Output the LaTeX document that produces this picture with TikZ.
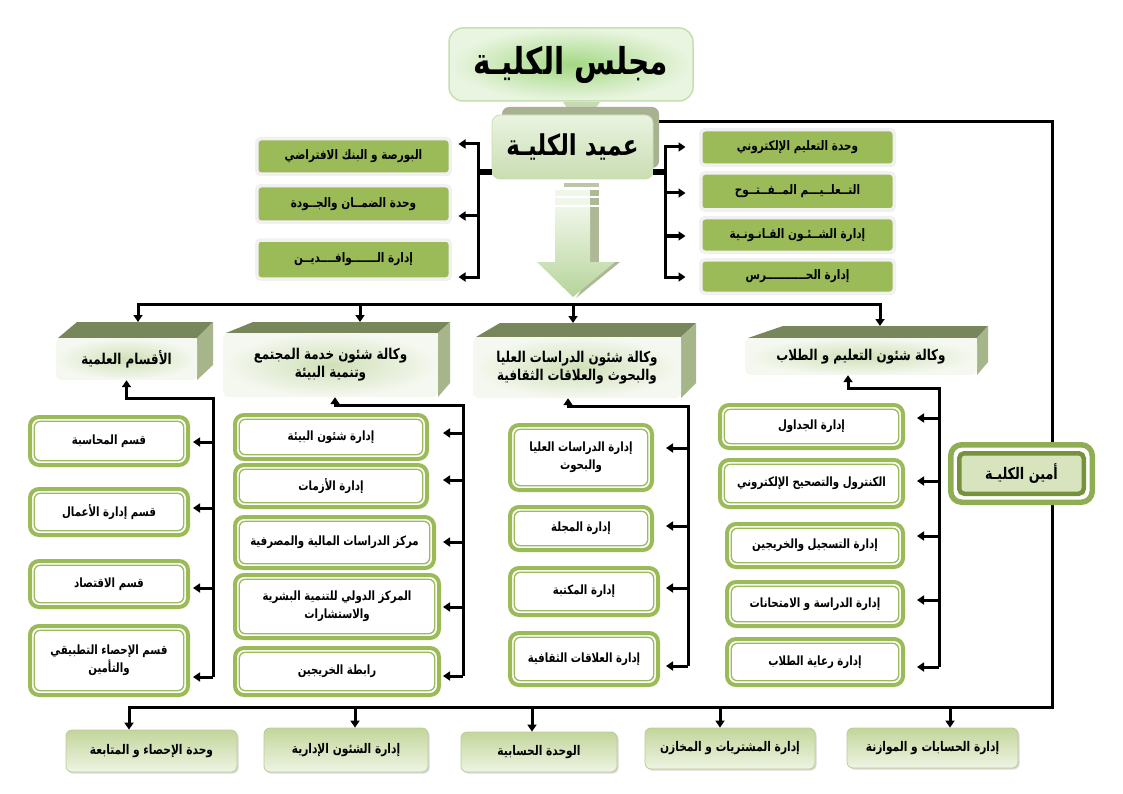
\documentclass[tikz,border=0pt]{standalone}
\usepackage{fontspec}
\usetikzlibrary{arrows.meta,shadows,calc}
\newfontfamily\arabicfont[Script=Arabic,FakeStretch=0.8]{DejaVu Sans}
\TeXXeTstate=1
\newcommand{\AR}[1]{\beginR #1\endR}
\definecolor{ogreen}{HTML}{9BBB59}
\definecolor{hdrtopc}{HTML}{77875B}
\definecolor{hdrsidec}{HTML}{A6B68A}
\definecolor{frontin}{HTML}{D0E0B8}
\definecolor{frontout}{HTML}{F5F8F0}
\definecolor{amouter}{HTML}{8FAE53}
\definecolor{aminner}{HTML}{76923C}
\definecolor{amfill}{HTML}{D7E4BD}
\definecolor{bottop}{HTML}{C3D69B}
\definecolor{botbot}{HTML}{EEF4E3}
\definecolor{botdraw}{HTML}{B9CD91}
\definecolor{councilin}{HTML}{A3D883}
\definecolor{councilout}{HTML}{EAF5E1}
\definecolor{councildraw}{HTML}{C4E0B0}
\definecolor{deantop}{HTML}{EAF3E0}
\definecolor{deanbot}{HTML}{CADDB2}
\definecolor{deanshadow}{HTML}{A9B290}
\definecolor{stubc}{HTML}{C9D8B5}
\definecolor{artop}{HTML}{F0F6E9}
\definecolor{arbot}{HTML}{B5D49A}
\definecolor{arshadow}{HTML}{AEB796}
\definecolor{sideframe}{HTML}{F1F1F1}
\newcommand\colfont{\arabicfont\bfseries\fontsize{12.75}{18}\selectfont}
\newcommand\hdrfont{\arabicfont\bfseries\fontsize{14.9}{18}\selectfont}
\newcommand\sidefont{\arabicfont\bfseries\fontsize{13.1}{15}\selectfont}
\newcommand\botfont{\arabicfont\bfseries\fontsize{13.3}{15}\selectfont}
\tikzset{
  conn/.style={line width=3pt, line cap=rect},
  arr/.style={line width=3pt, -{Triangle[length=7pt,width=9pt]}},
  stubline/.style={line width=6pt},
  colbox/.style={draw=ogreen, line width=4pt, fill=white, rounded corners=9pt,
    align=center, font=\colfont, inner sep=2pt,
    path picture={\draw[ogreen, line width=1.3pt, rounded corners=6pt]
      ([shift={(4.3pt,-4.3pt)}]path picture bounding box.north west) rectangle
      ([shift={(-4.3pt,4.3pt)}]path picture bounding box.south east);}},
  sidebox/.style={fill=ogreen, draw=sideframe, line width=3.5pt, rounded corners=4pt,
    drop shadow={opacity=0.35, shadow xshift=1pt, shadow yshift=-1.5pt},
    minimum width=193.5, minimum height=35.5, font=\sidefont, inner sep=1pt},
  hdrfront/.style={inner color=frontin, outer color=frontout, rounded corners=6pt,
    align=center, font=\hdrfont, inner sep=2pt},
  hdrtop/.style={fill=hdrtopc},
  hdrside/.style={fill=hdrsidec},
  botbox/.style={draw=botdraw, line width=0.8pt, top color=bottop, bottom color=botbot,
    rounded corners=6pt, drop shadow={opacity=0.3, shadow xshift=1.5pt, shadow yshift=-1.5pt},
    font=\botfont, inner sep=1pt},
  council/.style={inner color=councilin, outer color=councilout, draw=councildraw,
    line width=1.5pt, rounded corners=14pt, font=\arabicfont\bfseries\fontsize{37}{42}\selectfont},
  deanbox/.style={top color=deantop, bottom color=deanbot, draw=councildraw, line width=0.8pt,
    rounded corners=8pt, font=\arabicfont\bfseries\fontsize{28.7}{33}\selectfont},
  aminbox/.style={draw=amouter, line width=5.5pt, fill=white, rounded corners=11pt,
    font=\arabicfont\bfseries\fontsize{16}{19}\selectfont,
    path picture={\draw[draw=aminner, line width=4.5pt, fill=amfill, rounded corners=5pt]
      ([shift={(8.5pt,-8.5pt)}]path picture bounding box.north west) rectangle
      ([shift={(-8.5pt,8.5pt)}]path picture bounding box.south east);}}
}
\begin{document}
\begin{tikzpicture}[x=1pt,y=-1pt]
\useasboundingbox (0,0) rectangle (1123,794);
\fill[white] (0,0) rectangle (1123,794);

% ---------- long right line and bottom bus ----------
\coordinate (rc) at (1052,122);
\coordinate (rb) at (1052,707);
\coordinate (bb1) at (129,707);
\coordinate (bb2) at (355,707);
\coordinate (bb3) at (532,707);
\coordinate (bb4) at (720,707);
\coordinate (bb5) at (950,707);
\draw[conn] (640,122) -- (rc) -- (rb) -- (bb1);

% ---------- council and dean ----------
\node[council, minimum width=244, minimum height=73] (council) at (571,64.5) {\AR{مجلس الكليـة}};
\fill[stubc] (563,102) -- (600,102) -- (596,108) -- (567,108) -- cycle;
\fill[deanshadow, rounded corners=7pt] (502,107) rectangle (659,168);
\node[deanbox, minimum width=161, minimum height=64] (dean) at (572.5,147) {\AR{عميد الكليـة}};

% ---------- big arrow ----------
\fill[stubc!80!gray] (564,183) rectangle (599,187);
\fill[arshadow] (555,190) rectangle (599,196);
\fill[arshadow] (555,198) rectangle (599,205);
\fill[arshadow] (555,207) rectangle (599,264);
\fill[arshadow] (600,262) -- (620,262) -- (576,298) -- cycle;
\fill[artop] (555,190) rectangle (590,196);
\fill[artop] (555,198) rectangle (590,205);
\shade[top color=artop, bottom color=arbot]
  (555,207) -- (590,207) -- (590,262) -- (615,262) -- (573,297) -- (537,262) -- (555,262) -- cycle;

% ---------- side boxes of the dean ----------
\node[sidebox] (L1) at (353.5,156.5) {\AR{البورصة و البنك الافتراضي}};
\node[sidebox, minimum height=36.5] (L2) at (353.5,204) {\AR{وحدة الضمــان والجــودة}};
\node[sidebox, minimum height=39] (L3) at (353.5,259.5) {\AR{إدارة الـــــــوافــــديــن}};
\node[sidebox] (R1) at (797.5,147.5) {\AR{وحدة التعليم الإلكتروني}};
\node[sidebox, minimum height=37] (R2) at (797.5,191.5) {\AR{التــعلــيـــم المــفــتــوح}};
\node[sidebox, minimum height=34.5] (R3) at (797.5,235) {\AR{إدارة الشــئـون القـانـونـية}};
\node[sidebox, minimum height=33.5] (R4) at (797.5,276.5) {\AR{إدارة الحـــــــــــرس}};

\coordinate (dl) at (478,172);
\draw[stubline] (dean.west |- dl) -- (dl);
\coordinate (dl1) at (478,144);
\coordinate (dl2) at (478,216);
\coordinate (dl3) at (478,277);
\draw[conn] (dl1) -- (dl3);
\draw[arr, shorten >=6.5pt] (dl1) -- (dl1 -| L1.east);
\draw[arr, shorten >=6.5pt] (dl2) -- (dl2 -| L2.east);
\draw[arr, shorten >=6.5pt] (dl3) -- (dl3 -| L3.east);

\coordinate (dr) at (665,172);
\draw[stubline] (dean.east |- dr) -- (dr);
\coordinate (dr1) at (665,147);
\coordinate (dr2) at (665,193);
\coordinate (dr3) at (665,236);
\coordinate (dr4) at (665,277);
\draw[conn] (dr1) -- (dr4);
\draw[arr, shorten >=13.5pt] (dr1) -- (dr1 -| R1.west);
\draw[arr, shorten >=13.5pt] (dr2) -- (dr2 -| R2.west);
\draw[arr, shorten >=13.5pt] (dr3) -- (dr3 -| R3.west);
\draw[arr, shorten >=13.5pt] (dr4) -- (dr4 -| R4.west);

% ---------- 3D header boxes ----------
\fill[hdrtop] (58,338) -- (77,322) -- (213,322) -- (197,338) -- cycle;
\fill[hdrside] (197,338) -- (213,322) -- (213,365) -- (197,380) -- cycle;
\node[hdrfront, minimum width=141, minimum height=42] (h1) at (126.5,359) {\AR{الأقسام العلمية}};
\coordinate (h1top) at (138,322);

\fill[hdrtop] (226,333) -- (253,322) -- (450,322) -- (438,333) -- cycle;
\fill[hdrside] (438,333) -- (450,322) -- (450,383) -- (438,397) -- cycle;
\node[hdrfront, minimum width=215, minimum height=64] (h2) at (330.5,365) {\AR{وكالة شئون خدمة المجتمع}\\\AR{وتنمية البيئة}};
\coordinate (h2top) at (360,322);

\fill[hdrtop] (476,337) -- (500,323) -- (696,323) -- (681,337) -- cycle;
\fill[hdrside] (681,337) -- (696,323) -- (696,383) -- (681,398) -- cycle;
\node[hdrfront, minimum width=208, minimum height=61] (h3) at (577,367.5) {\AR{وكالة شئون الدراسات العليا}\\\AR{والبحوث والعلاقات الثقافية}};
\coordinate (h3top) at (573,323);

\fill[hdrtop] (748,338) -- (783,326) -- (988,326) -- (977,338) -- cycle;
\fill[hdrside] (977,338) -- (988,326) -- (988,362) -- (977,375) -- cycle;
\node[hdrfront, minimum width=232, minimum height=37] (h4) at (861,356.5) {\AR{وكالة شئون التعليم و الطلاب}};
\coordinate (h4top) at (880,326);

% top bus
\coordinate (tb1) at (138,304);
\coordinate (tb2) at (360,304);
\coordinate (tb3) at (573,304);
\coordinate (tb4) at (880,304);
\draw[conn] (tb1) -- (tb4);
\draw[arr] (tb1) -- (h1top);
\draw[arr] (tb2) -- (h2top);
\draw[arr] (tb3) -- (h3top);
\draw[arr] (tb4) -- (h4top);

% ---------- column 1 ----------
\node[colbox, minimum width=158, minimum height=48] (c11) at (109,441) {\AR{قسم المحاسبة}};
\node[colbox, minimum width=158, minimum height=46] (c12) at (109,512) {\AR{قسم إدارة الأعمال}};
\node[colbox, minimum width=158, minimum height=46] (c13) at (109,584) {\AR{قسم الاقتصاد}};
\node[colbox, minimum width=158, minimum height=69] (c14) at (109,660.5) {\AR{قسم الإحصاء التطبيقي}\\\AR{والتأمين}};
\coordinate (v1t) at (213,398);
\coordinate (v1b) at (213,677);
\coordinate (t1) at (193,0);
\draw[arr] (v1b) -- (v1t) -| (h1.south);
\coordinate (a11) at (213,442);
\coordinate (a12) at (213,508);
\coordinate (a13) at (213,588);
\draw[arr] (a11) -- (a11 -| t1);
\draw[arr] (a12) -- (a12 -| t1);
\draw[arr] (a13) -- (a13 -| t1);
\draw[arr] (v1b) -- (v1b -| t1);

% ---------- column 2 ----------
\node[colbox, minimum width=192, minimum height=44] (c21) at (331,437) {\AR{إدارة شئون البيئة}};
\node[colbox, minimum width=192, minimum height=42] (c22) at (331,486) {\AR{إدارة الأزمات}};
\node[colbox, minimum width=199, minimum height=51] (c23) at (334.5,542.5) {\AR{مركز الدراسات المالية والمصرفية}};
\node[colbox, minimum width=204, minimum height=63] (c24) at (337,606.5) {\AR{المركز الدولي للتنمية البشرية}\\\AR{والاستشارات}};
\node[colbox, minimum width=204, minimum height=47] (c25) at (337,671.5) {\AR{رابطة الخريجين}};
\coordinate (v2t) at (463,405);
\coordinate (v2b) at (463,676);
\coordinate (t2) at (443,0);
\draw[arr] (v2b) -- (v2t) -| ([xshift=4.5pt]h2.south);
\coordinate (a21) at (463,433);
\coordinate (a22) at (463,480);
\coordinate (a23) at (463,542);
\coordinate (a24) at (463,607);
\draw[arr] (a21) -- (a21 -| t2);
\draw[arr] (a22) -- (a22 -| t2);
\draw[arr] (a23) -- (a23 -| t2);
\draw[arr] (a24) -- (a24 -| t2);
\draw[arr] (v2b) -- (v2b -| t2);

% ---------- column 3 ----------
\node[colbox, minimum width=142, minimum height=65] (c31) at (581,457.5) {\AR{إدارة الدراسات العليا}\\\AR{والبحوث}};
\node[colbox, minimum width=142, minimum height=43] (c32) at (581,528.5) {\AR{إدارة المجلة}};
\node[colbox, minimum width=148, minimum height=47] (c33) at (584,591.5) {\AR{إدارة المكتبة}};
\node[colbox, minimum width=148, minimum height=52] (c34) at (584,659) {\AR{إدارة العلاقات الثقافية}};
\coordinate (v3t) at (688,406);
\coordinate (v3b) at (688,666);
\coordinate (t3) at (666,0);
\draw[arr] (v3b) -- (v3t) -| ([xshift=-9pt]h3.south);
\coordinate (a31) at (688,448);
\coordinate (a32) at (688,526);
\coordinate (a33) at (688,588);
\draw[arr] (a31) -- (a31 -| t3);
\draw[arr] (a32) -- (a32 -| t3);
\draw[arr] (a33) -- (a33 -| t3);
\draw[arr] (v3b) -- (v3b -| t3);

% ---------- column 4 ----------
\node[colbox, minimum width=183, minimum height=43] (c41) at (811.5,426.5) {\AR{إدارة الجداول}};
\node[colbox, minimum width=183, minimum height=47] (c42) at (811.5,483.5) {\AR{الكنترول والتصحيح الإلكتروني}};
\node[colbox, minimum width=176, minimum height=43] (c43) at (815,545.5) {\AR{إدارة التسجيل والخريجين}};
\node[colbox, minimum width=176, minimum height=44] (c44) at (815,604) {\AR{إدارة الدراسة و الامتحانات}};
\node[colbox, minimum width=176, minimum height=46] (c45) at (815,662) {\AR{إدارة رعاية الطلاب}};
\coordinate (v4t) at (939,388);
\coordinate (v4b) at (939,667);
\coordinate (t4) at (917,0);
\draw[arr] (v4b) -- (v4t) -| ([xshift=-13pt]h4.south);
\coordinate (a41) at (939,418);
\coordinate (a42) at (939,481);
\coordinate (a43) at (939,536);
\coordinate (a44) at (939,600);
\draw[arr] (a41) -- (a41 -| t4);
\draw[arr] (a42) -- (a42 -| t4);
\draw[arr] (a43) -- (a43 -| t4);
\draw[arr] (a44) -- (a44 -| t4);
\draw[arr] (v4b) -- (v4b -| t4);

% ---------- secretary ----------
\node[aminbox, minimum width=141.5, minimum height=57.5] (amin) at (1021.5,473.5) {\AR{أمين الكليـة}};

% ---------- bottom boxes ----------
\node[botbox, minimum width=171, minimum height=42] (b1) at (151.5,751) {\AR{وحدة الإحصاء و المتابعة}};
\node[botbox, minimum width=164, minimum height=44] (b2) at (346,750) {\AR{إدارة الشئون الإدارية}};
\node[botbox, minimum width=156, minimum height=40] (b3) at (539,752) {\AR{الوحدة الحسابية}};
\node[botbox, minimum width=170, minimum height=41] (b4) at (730,748.5) {\AR{إدارة المشتريات و المخازن}};
\node[botbox, minimum width=171, minimum height=40] (b5) at (932.5,748) {\AR{إدارة الحسابات و الموازنة}};
\draw[arr] (bb1) -- (bb1 |- b1.north);
\draw[arr] (bb2) -- (bb2 |- b2.north);
\draw[arr] (bb3) -- (bb3 |- b3.north);
\draw[arr] (bb4) -- (bb4 |- b4.north);
\draw[arr] (bb5) -- (bb5 |- b5.north);
\end{tikzpicture}
\end{document}
